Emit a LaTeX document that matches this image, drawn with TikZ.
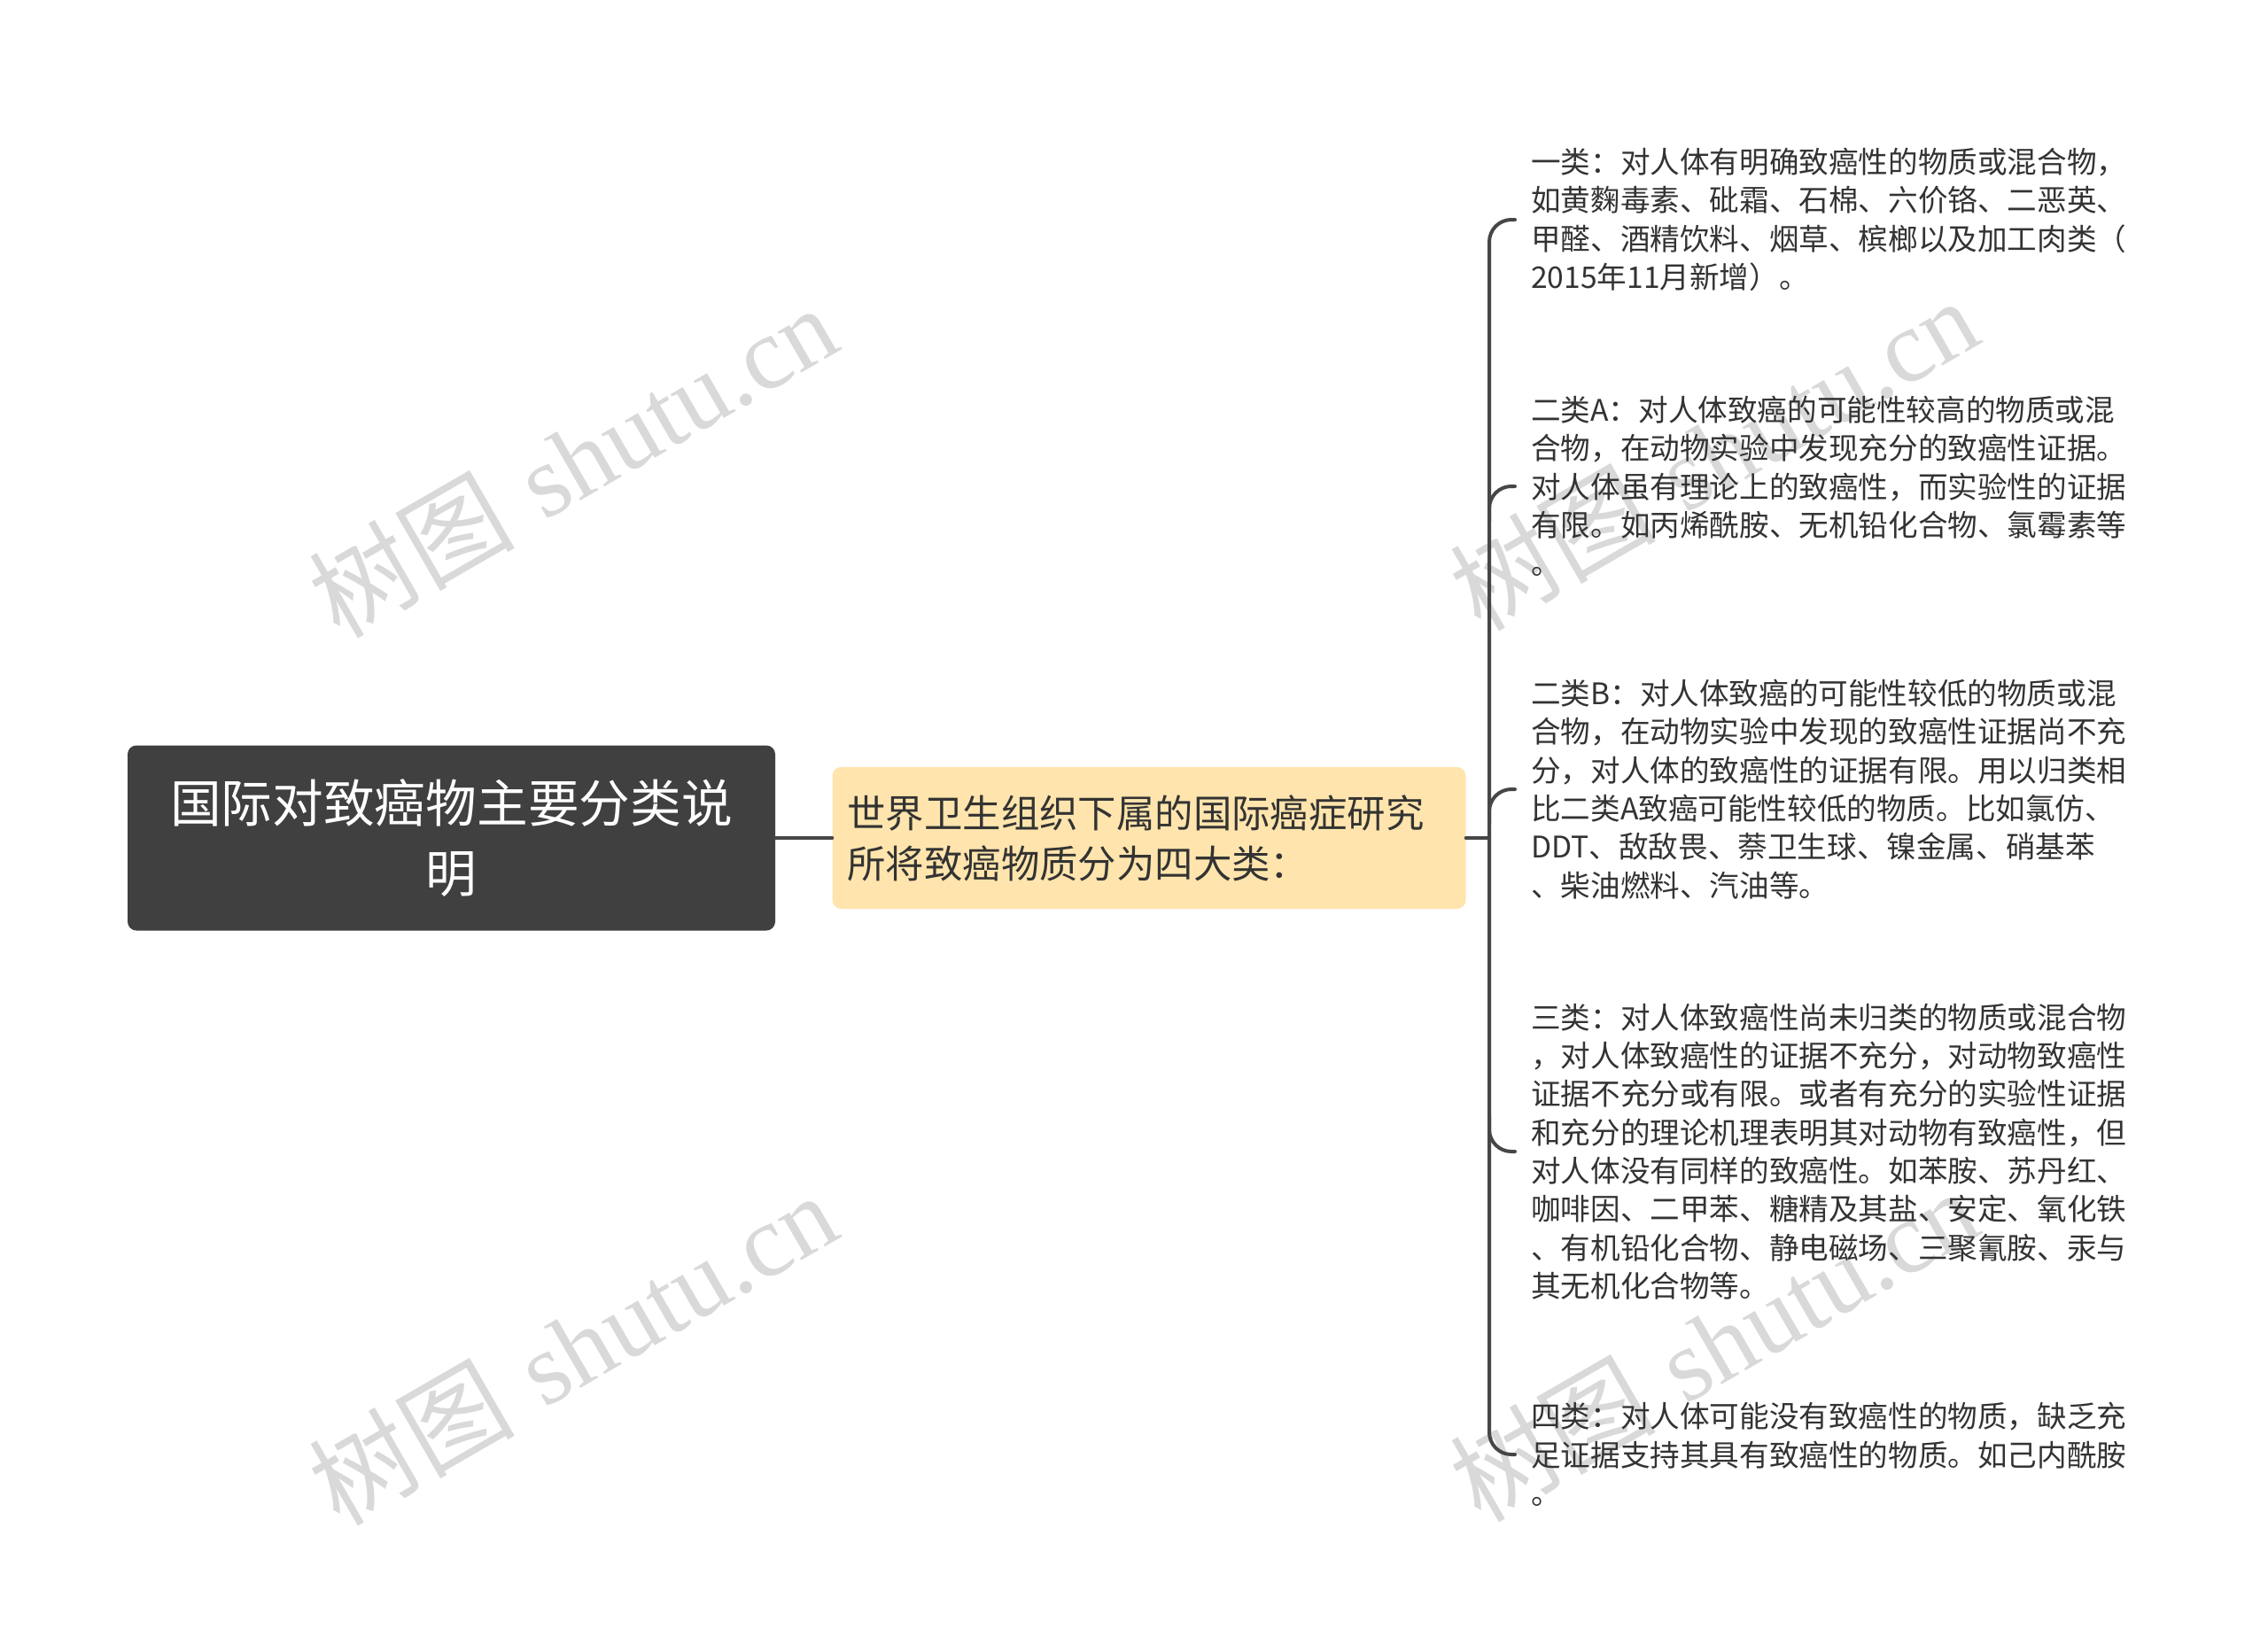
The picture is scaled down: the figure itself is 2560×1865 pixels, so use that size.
\documentclass[tikz,border=0pt]{standalone}
\usepackage{fontspec}
\newfontfamily\cjk{Noto Sans CJK SC}
\newfontfamily\wmserif{Liberation Serif}
\definecolor{rootfill}{HTML}{404040}
\definecolor{yelfill}{HTML}{FFE5AD}
\definecolor{txt}{HTML}{333333}
\definecolor{linec}{HTML}{464646}
\definecolor{wm}{HTML}{D9D9D9}
\tikzset{
  conn/.style={draw=linec, line width=4pt, line cap=round},
  rootbox/.style={rectangle, rounded corners=10pt, fill=rootfill, text=white, minimum width=731pt, minimum height=209pt, inner sep=0pt, align=center, font=\cjk\fontsize{57.7}{79}\selectfont},
  yelbox/.style={rectangle, rounded corners=10pt, fill=yelfill, text=txt, minimum width=715pt, minimum height=160pt, inner xsep=17pt, inner ysep=0pt, text width=681pt, align=left, font=\cjk\fontsize{43.4}{57}\selectfont},
  leaf/.style={anchor=west, inner sep=0pt, align=left, text=txt, font=\cjk\fontsize{33.6}{43.3}\selectfont},
  wmark/.style={text=wm, rotate=30, inner sep=0pt, font=\fontsize{116}{120}\selectfont}
}
\begin{document}
\begin{tikzpicture}[x=1pt,y=-1pt]
\useasboundingbox[fill=white] (0,0) rectangle (2560,1865);
% watermarks
\node[wmark] (w1) at (646,520) {{\cjk 树图} {\wmserif shutu.cn}};
\node[wmark] (w2) at (1934,512) {{\cjk 树图} {\wmserif shutu.cn}};
\node[wmark] (w3) at (646,1522) {{\cjk 树图} {\wmserif shutu.cn}};
\node[wmark] (w4) at (1934,1518) {{\cjk 树图} {\wmserif shutu.cn}};
% main nodes
\node[rootbox] (root) at (509.5,946) {国际对致癌物主要分类说\\明};
\node[yelbox] (yel) at (1297,946) {世界卫生组织下属的国际癌症研究\\所将致癌物质分为四大类：};
\coordinate (trunk) at (1681,946);
% leaves
\node[leaf] (c1) at (1728,248) {一类：对人体有明确致癌性的物质或混合物，\\如黄麴毒素、砒霜、石棉、六价铬、二恶英、\\甲醛、酒精饮料、烟草、槟榔以及加工肉类（\\2015年11月新增）。};
\node[leaf] (c2) at (1728,549) {二类A：对人体致癌的可能性较高的物质或混\\合物，在动物实验中发现充分的致癌性证据。\\对人体虽有理论上的致癌性，而实验性的证据\\有限。如丙烯酰胺、无机铅化合物、氯霉素等\\。};
\node[leaf] (c3) at (1728,891) {二类B：对人体致癌的可能性较低的物质或混\\合物，在动物实验中发现的致癌性证据尚不充\\分，对人体的致癌性的证据有限。用以归类相\\比二类A致癌可能性较低的物质。比如氯仿、\\DDT、敌敌畏、萘卫生球、镍金属、硝基苯\\、柴油燃料、汽油等。};
\node[leaf] (c4) at (1728,1300) {三类：对人体致癌性尚未归类的物质或混合物\\，对人体致癌性的证据不充分，对动物致癌性\\证据不充分或有限。或者有充分的实验性证据\\和充分的理论机理表明其对动物有致癌性，但\\对人体没有同样的致癌性。如苯胺、苏丹红、\\咖啡因、二甲苯、糖精及其盐、安定、氧化铁\\、有机铅化合物、静电磁场、三聚氰胺、汞与\\其无机化合物等。};
\node[leaf] (c5) at (1728,1642) {四类：对人体可能没有致癌性的物质，缺乏充\\足证据支持其具有致癌性的物质。如己内酰胺\\。};
% connectors
\draw[conn] (root.east) -- (yel.west);
\draw[conn] (yel.east) -- (trunk);
\draw[conn, rounded corners=25pt] ([xshift=-18pt]c1.west) -- (c1.west -| trunk) -- (c5.west -| trunk) -- ([xshift=-18pt]c5.west);
\draw[conn, rounded corners=25pt] ([yshift=-40pt]c2.west -| trunk) -- (c2.west -| trunk) -- ([xshift=-18pt]c2.west);
\draw[conn, rounded corners=25pt] ([yshift=-40pt]c3.west -| trunk) -- (c3.west -| trunk) -- ([xshift=-18pt]c3.west);
\draw[conn, rounded corners=25pt] ([yshift=40pt]c4.west -| trunk) -- (c4.west -| trunk) -- ([xshift=-18pt]c4.west);
\end{tikzpicture}
\end{document}
